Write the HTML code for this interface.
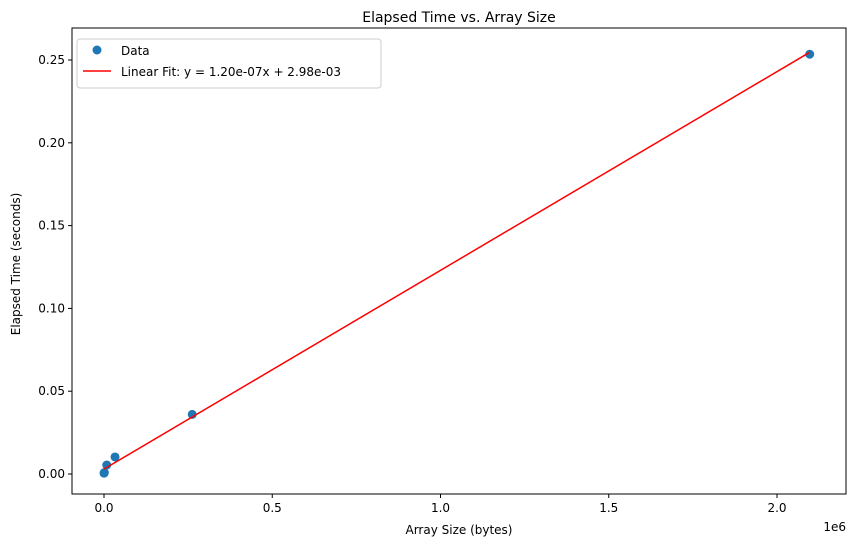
<!DOCTYPE html>
<html><head><meta charset="utf-8"><style>body{margin:0;background:#fff;font-family:"Liberation Sans","DejaVu Sans",sans-serif}</style></head>
<body>
<svg id="c" width="855" height="547" xmlns="http://www.w3.org/2000/svg" font-family="'DejaVu Sans','Liberation Sans',sans-serif"></svg>
<script>
const xs=[128,1024,8192,32768,262144,2097152];
const ys=[0.0005,0.0009,0.0054,0.0103,0.036,0.2535];
const slope=1.20e-7, intercept=2.98e-3;
const xTicks=[0,0.5e6,1.0e6,1.5e6,2.0e6], xTickLabels=["0.0","0.5","1.0","1.5","2.0"];
const yTicks=[0,0.05,0.10,0.15,0.20,0.25], yTickLabels=["0.00","0.05","0.10","0.15","0.20","0.25"];
const L=72,R=846,T=28,B=494;
const X=v=>104+v*(777-104)/2e6;
const Y=v=>474-v*(474-60)/0.25;
const s=document.getElementById('c');const NS='http://www.w3.org/2000/svg';
function el(t,a,txt){const e=document.createElementNS(NS,t);for(const k in a)e.setAttribute(k,a[k]);if(txt!==undefined)e.textContent=txt;s.appendChild(e);return e;}
let e;
e=el('rect',{x:L,y:T,width:R-L,height:B-T,fill:'none',stroke:'#000','stroke-width':1});


xTicks.forEach((v,i)=>{el('line',{x1:X(v),x2:X(v),y1:B,y2:B+4,stroke:'#000'});
e=el('text',{x:X(v),y:B+18,'text-anchor':'middle','font-size':12},xTickLabels[i]);

});
yTicks.forEach((v,i)=>{el('line',{x1:L-4,x2:L,y1:Y(v),y2:Y(v),stroke:'#000'});
e=el('text',{x:L-7,y:Y(v)+4,'text-anchor':'end','font-size':12},yTickLabels[i]);

});
e=el('text',{x:846,y:531,'text-anchor':'end','font-size':12},'1e6');


e=el('text',{x:459,y:534,'text-anchor':'middle','font-size':12},'Array Size (bytes)');


e=el('text',{x:20,y:264,'text-anchor':'middle','font-size':12,transform:'rotate(-90 20 264)'},'Elapsed Time (seconds)');


e=el('text',{x:459,y:22,'text-anchor':'middle','font-size':14},'Elapsed Time vs. Array Size');


xs.forEach((v,i)=>{e=el('circle',{cx:X(v),cy:Y(ys[i]),r:4.5,fill:'#1f77b4'});

});
const x0=Math.min(...xs),x1=Math.max(...xs);
e=el('line',{x1:X(x0),y1:Y(slope*x0+intercept),x2:X(x1),y2:Y(slope*x1+intercept),stroke:'red','stroke-width':1.5});


e=el('rect',{x:77,y:39,width:304,height:49,rx:3,fill:'#fff',stroke:'#ccc'});


e=el('circle',{cx:97,cy:50,r:4.5,fill:'#1f77b4'});


e=el('text',{x:121,y:55,'font-size':12},'Data');


e=el('line',{x1:83,x2:111,y1:71,y2:71,stroke:'red','stroke-width':1.5});


e=el('text',{x:121,y:76,'font-size':12},'Linear Fit: y = 1.20e-07x + 2.98e-03');


</script>
</body></html>
